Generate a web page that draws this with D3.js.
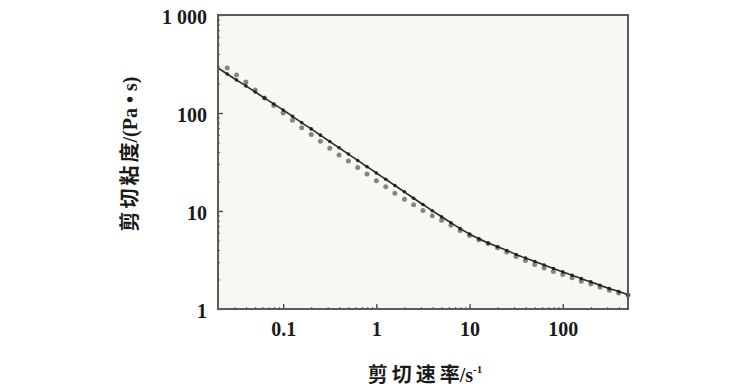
<!DOCTYPE html>
<html>
<head>
<meta charset="utf-8">
<script src="https://cdn.jsdelivr.net/npm/d3@7"></script>
<style>
  body { margin: 0; background: #fff; }
  text { font-family: "Liberation Serif", "Noto Sans CJK SC", serif; font-weight: bold; fill: #1a1a1a; }
</style>
</head>
<body>
<svg id="chart" width="745" height="392"></svg>
<script>
// shear rate (1/s), 10 points per decade
const shearRate = [0.0251, 0.0316, 0.0398, 0.0501, 0.0631, 0.0794, 0.1, 0.126, 0.158, 0.2,
  0.251, 0.316, 0.398, 0.501, 0.631, 0.794, 1, 1.26, 1.58, 2,
  2.51, 3.16, 3.98, 5.01, 6.31, 7.94, 10, 12.6, 15.8, 20,
  25.1, 31.6, 39.8, 50.1, 63.1, 79.4, 100, 126, 158, 200,
  251, 316, 398, 501];

// black series (on the curve)
const viscFit = [250, 217, 189, 164, 142, 123.6, 107.3, 92.5, 79.8, 68.8,
  59.4, 51.2, 44.2, 38.1, 32.8, 28.3, 24.4, 21.1, 18.2, 15.7,
  13.5, 11.65, 10.07, 8.73, 7.60, 6.61, 5.83, 5.20, 4.72, 4.31,
  3.96, 3.60, 3.31, 3.05, 2.81, 2.59, 2.39, 2.21, 2.04, 1.89,
  1.75, 1.62, 1.51, 1.40];

// grey series (measured)
const viscMeas = [288, 244, 207, 172, 142, 119, 100, 84.2, 70.9, 60.5,
  51.6, 43.7, 37.2, 32.3, 27.8, 23.8, 20.4, 17.7, 15.2, 13.2,
  11.6, 10.1, 8.95, 8.04, 7.17, 6.31, 5.63, 5.08, 4.66, 4.21,
  3.82, 3.43, 3.12, 2.84, 2.62, 2.41, 2.25, 2.08, 1.92, 1.80,
  1.67, 1.55, 1.46, 1.38];

// curve start at the left edge
const fitStartRate = [0.02];
const fitStartVisc = [288];

const xTicks = [0.1, 1, 10, 100];
const xTickLabels = ["0.1", "1", "10", "100"];
const yTicks = [1, 10, 100, 1000];
const yTickLabels = ["1", "10", "100", "1 000"];

const svg = d3.select("#chart");
const margin = { left: 218, top: 15, right: 117, bottom: 83 };
const width = 745 - margin.left - margin.right;
const height = 392 - margin.top - margin.bottom;

const x = d3.scaleLog().domain([0.02, 501]).range([0, width]);
const y = d3.scaleLog().domain([1, 1000]).range([height, 0]);

const g = svg.append("g").attr("transform", `translate(${margin.left},${margin.top})`);

g.append("rect")
  .attr("width", width).attr("height", height)
  .attr("fill", "#f8f8f3");

// minor ticks, pointing inward
const xMinor = [];
for (let e = -2; e <= 2; e++) for (let m = 1; m <= 9; m++) {
  const v = m * Math.pow(10, e);
  if (v >= 0.02 && v <= 501) xMinor.push(v);
}
const yMinor = [];
for (let e = 0; e <= 2; e++) for (let m = 1; m <= 9; m++) yMinor.push(m * Math.pow(10, e));
yMinor.push(1000);

const bottomAxis = d3.axisBottom(x).tickValues(xMinor).tickSize(-2).tickFormat("");
const leftAxis = d3.axisLeft(y).tickValues(yMinor).tickSize(-2).tickFormat("");

g.append("g").attr("transform", `translate(0,${height})`).call(bottomAxis)
  .call(a => a.select(".domain").remove())
  .call(a => a.selectAll("line").attr("stroke", "#555"));
g.append("g").call(leftAxis)
  .call(a => a.select(".domain").remove())
  .call(a => a.selectAll("line").attr("stroke", "#555"));

// major ticks + labels
g.append("g").attr("transform", `translate(0,${height})`)
  .call(d3.axisBottom(x).tickValues(xTicks).tickSize(-5).tickFormat((d, i) => xTickLabels[i]).tickPadding(13))
  .call(a => a.select(".domain").remove())
  .call(a => a.selectAll("line").attr("stroke", "#444").attr("stroke-width", 1.3))
  .call(a => a.selectAll("text").attr("font-size", 20).attr("fill", "#1a1a1a")
    .style("font-family", "'Liberation Serif', serif").style("font-weight", "bold"));

g.append("g")
  .call(d3.axisLeft(y).tickValues(yTicks).tickSize(-5).tickFormat((d, i) => yTickLabels[i]).tickPadding(11))
  .call(a => a.select(".domain").remove())
  .call(a => a.selectAll("line").attr("stroke", "#444").attr("stroke-width", 1.3))
  .call(a => a.selectAll("text").attr("font-size", 20).attr("fill", "#1a1a1a").attr("dy", "0.42em")
    .style("font-family", "'Liberation Serif', serif").style("font-weight", "bold"));

// data
const measured = shearRate.map((r, i) => ({ r, v: viscMeas[i] }));
const fitted = shearRate.map((r, i) => ({ r, v: viscFit[i] }));
const curve = fitStartRate.map((r, i) => ({ r, v: fitStartVisc[i] })).concat(fitted);

g.selectAll(".meas").data(measured).join("circle")
  .attr("class", "meas")
  .attr("cx", d => x(d.r)).attr("cy", d => y(d.v))
  .attr("r", 2.5).attr("fill", "#858585");

g.append("path").datum(curve)
  .attr("fill", "none").attr("stroke", "#2a2a2a").attr("stroke-width", 1.6)
  .attr("d", d3.line().curve(d3.curveMonotoneX).x(d => x(d.r)).y(d => y(d.v)));

g.selectAll(".fit").data(fitted).join("circle")
  .attr("class", "fit")
  .attr("cx", d => x(d.r)).attr("cy", d => y(d.v))
  .attr("r", 1.8).attr("fill", "#222");

// frame
g.append("rect")
  .attr("width", width).attr("height", height)
  .attr("fill", "none").attr("stroke", "#5e5a5a").attr("stroke-width", 2);

// axis titles (spacing only between the Chinese characters)
const yt = svg.append("text")
  .attr("transform", `translate(137,${margin.top + height / 2 - 8}) rotate(-90)`)
  .attr("text-anchor", "middle").attr("font-size", 20);
yt.append("tspan").attr("letter-spacing", 3).text("剪切粘");
yt.append("tspan").text("度/(Pa • s)");

const xt = svg.append("text")
  .attr("x", margin.left + width / 2 + 2).attr("y", 382)
  .attr("text-anchor", "middle").attr("font-size", 20);
xt.append("tspan").attr("letter-spacing", 4).text("剪切速");
xt.append("tspan").text("率/s");
xt.append("tspan").attr("font-size", 11).attr("dy", -9).text("-1");
</script>
</body>
</html>
